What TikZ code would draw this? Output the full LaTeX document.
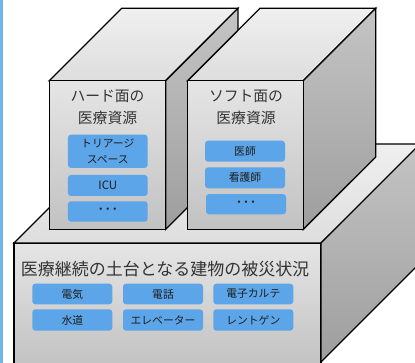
\documentclass[tikz,border=0pt]{standalone}
\usepackage{fontspec}
\newfontfamily\jp{Noto Sans CJK JP}
\definecolor{stripblue}{HTML}{6DB8E8}
\definecolor{boxblue}{HTML}{5CA5E8}
\definecolor{titletext}{HTML}{333333}
\definecolor{boxtext}{HTML}{1E1E1E}
\tikzset{
  edge/.style={draw=black, line width=1.3pt, line join=miter},
  frontface/.style={edge, top color=black!10, bottom color=black!24},
  topface/.style={edge, top color=black!6, bottom color=black!13},
  sideface/.style={edge, top color=black!23, bottom color=black!38},
  bluebox/.style={fill=boxblue, rounded corners=3pt, inner sep=0pt, align=center,
    text=boxtext, font=\jp\fontsize{10.8}{15.5}\selectfont},
  dotsfont/.style={font=\jp\fontsize{14}{15}\selectfont},
  facetitle/.style={text=titletext, align=center, inner sep=0pt,
    font=\jp\fontsize{14.8}{21.5}\selectfont},
}
\begin{document}
\begin{tikzpicture}[x=1pt,y=-1pt]
\useasboundingbox (0,0) rectangle (415,363);
\clip (0,0) rectangle (415,363);
\fill[stripblue] (0,0) rectangle (3,363);
% base block
\path[frontface] (14,243) rectangle (321,366);
\path[topface] (14,243) -- (113,144) -- (422,144) -- (321,243) -- cycle;
\path[sideface] (321,243) -- (422,142) -- (422,261) -- (321,362) -- cycle;
% left block
\path[topface] (49.3,80.7) -- (121.7,8.3) -- (238,8.3) -- (165.7,80.7) -- cycle;
\path[sideface] (165.7,80.7) -- (238,8.3) -- (238,157) -- (165.7,229.3) -- cycle;
\path[frontface] (49.3,80.7) rectangle (165.7,229.3);
% right block
\path[topface] (187.7,80.7) -- (260,8.3) -- (375.7,8.3) -- (303.3,80.7) -- cycle;
\path[sideface] (303.3,80.7) -- (375.7,8.3) -- (375.7,157) -- (303.3,229.3) -- cycle;
\path[frontface] (187.7,80.7) rectangle (303.3,229.3);
% titles
\node[facetitle] (hardtitle) at (107.5,107.5) {ハード面の\\医療資源};
\node[facetitle] (softtitle) at (246,107.5) {ソフト面の\\医療資源};
\node[facetitle, font=\jp\fontsize{17}{20}\selectfont] (basetitle) at (165,269.5) {医療継続の土台となる建物の被災状況};
% hard boxes
\node[bluebox, minimum width=79.7pt, minimum height=33.3pt] (triage) at (107.8,151.3) {トリアージ\\スペース};
\node[bluebox, minimum width=79.7pt, minimum height=21pt, font=\jp\fontsize{11.5}{14}\selectfont] (icu) at (107.8,185.5) {ICU};
\node[bluebox, dotsfont, minimum width=79.7pt, minimum height=20.4pt] (hdots) at (107.8,211.5) {･･･};
% soft boxes
\node[bluebox, minimum width=80pt, minimum height=21pt] (doctor) at (245,151.2) {医師};
\node[bluebox, minimum width=80pt, minimum height=21pt] (nurse) at (245,177.8) {看護師};
\node[bluebox, dotsfont, minimum width=80pt, minimum height=20.3pt] (sdots) at (246,204.2) {･･･};
% base boxes
\node[bluebox, minimum width=80pt, minimum height=20.6pt] (elec) at (72.3,294) {電気};
\node[bluebox, minimum width=80pt, minimum height=20.6pt] (phone) at (163,294) {電話};
\node[bluebox, minimum width=80pt, minimum height=20.6pt] (emr) at (253.3,294) {電子カルテ};
\node[bluebox, minimum width=80pt, minimum height=21.4pt] (water) at (72.3,320) {水道};
\node[bluebox, minimum width=80pt, minimum height=21.4pt] (elev) at (163,320) {エレベーター};
\node[bluebox, minimum width=80pt, minimum height=21.4pt] (xray) at (253.3,320) {レントゲン};
\end{tikzpicture}
\end{document}
